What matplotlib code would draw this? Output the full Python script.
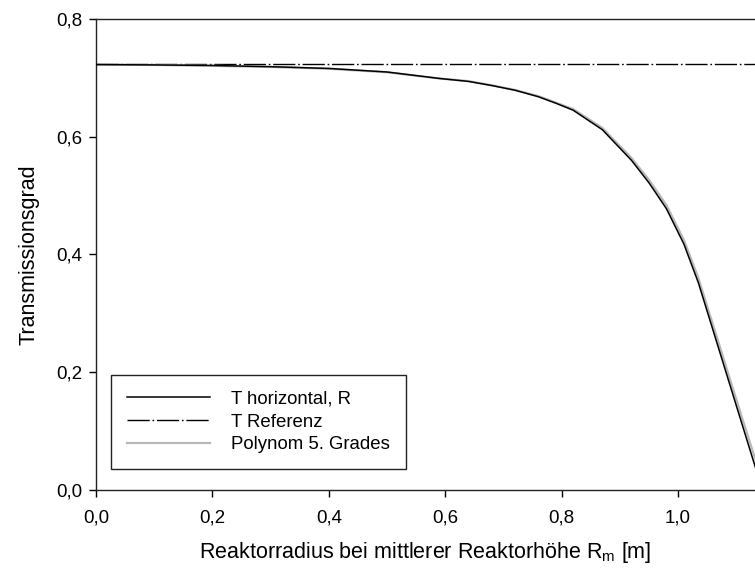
import matplotlib
matplotlib.use("Agg")
import matplotlib.pyplot as plt
import matplotlib.ticker as mpltick

plt.rcParams["font.family"] = ["Liberation Sans", "DejaVu Sans"]

# Data
r_m = [0.0, 0.1, 0.2, 0.3, 0.4, 0.5, 0.59, 0.64, 0.68, 0.72, 0.76, 0.79, 0.82, 0.87, 0.92, 0.95, 0.98, 1.01, 1.035, 1.06, 1.09, 1.11, 1.14]
t_horizontal = [0.7226, 0.722, 0.721, 0.719, 0.716, 0.710, 0.699, 0.694, 0.687, 0.679, 0.668, 0.657, 0.645, 0.612, 0.560, 0.522, 0.478, 0.418, 0.352, 0.272, 0.176, 0.112, 0.016]
t_poly = [0.7226, 0.722, 0.7205, 0.7185, 0.7155, 0.7095, 0.699, 0.6945, 0.6875, 0.6795, 0.669, 0.658, 0.647, 0.615, 0.564, 0.527, 0.484, 0.425, 0.360, 0.281, 0.186, 0.123, 0.030]
r_ref = [0.0, 1.14]
t_ref = [0.7236, 0.7236]

fig = plt.figure(figsize=(7.55, 5.71), dpi=100)
ax = fig.add_axes([96 / 755, 1 - 490 / 571, 1 - 96 / 755, (490 - 19) / 571])

l1, = ax.plot(r_m, t_horizontal, color="black", lw=1.1, zorder=3)
l2, = ax.plot(r_ref, t_ref, color="black", lw=1.0, dashes=(16, 2, 1.2, 2))
l3, = ax.plot(r_m, t_poly, color="#b8b8b8", lw=1.6, zorder=2)

ax.set_xlim(0, 1.1323)
ax.set_ylim(0, 0.8)
ax.xaxis.set_major_locator(mpltick.MultipleLocator(0.2))
ax.yaxis.set_major_locator(mpltick.MultipleLocator(0.2))
fmt = mpltick.FuncFormatter(lambda v, p: f"{v:.1f}".replace(".", ","))
ax.xaxis.set_major_formatter(fmt)
ax.yaxis.set_major_formatter(fmt)
ax.tick_params(direction="out", length=5, width=1, labelsize=13.5, pad=5)
ax.tick_params(axis="x", pad=9)

ax.spines["right"].set_visible(False)
for s in ["left", "bottom", "top"]:
    ax.spines[s].set_linewidth(1.0)
    ax.spines[s].set_color("#222222")

ax.set_xlabel(r"Reaktorradius bei mittlerer Reaktorhöhe R$_{\mathregular{m}}$ [m]", fontsize=15.5, labelpad=10)
ax.set_ylabel("Transmissionsgrad", fontsize=15.5, labelpad=12)

leg = ax.legend(
    [l1, l2, l3],
    ["T horizontal, R", "T Referenz", "Polynom 5. Grades"],
    loc="lower left",
    bbox_to_anchor=(111 / 755, 1 - 469 / 571),
    bbox_transform=fig.transFigure,
    borderaxespad=0,
    fontsize=13.4,
    handlelength=4.46,
    handletextpad=1.13,
    labelspacing=0.3,
    borderpad=0.85,
    fancybox=False,
    edgecolor="#222222",
    framealpha=1,
)
leg.get_frame().set_linewidth(1.0)

fig.savefig("out.png", dpi=100)
